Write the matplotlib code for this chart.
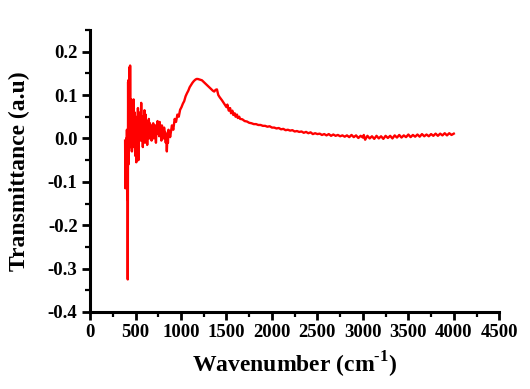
import numpy as np
import matplotlib
matplotlib.use("Agg")
import matplotlib.pyplot as plt
from matplotlib.ticker import MultipleLocator

plt.rcParams['font.family'] = 'Liberation Serif'
plt.rcParams['font.weight'] = 'bold'
plt.rcParams['mathtext.fontset'] = 'custom'
plt.rcParams['mathtext.rm'] = 'Liberation Serif:bold'
plt.rcParams['mathtext.bf'] = 'Liberation Serif:bold'

# spiky low-wavenumber part
wn_low = [385, 388, 392, 395, 398, 402, 405, 408, 411, 414, 416, 418, 421, 424,
          427, 430, 433, 436, 438, 440, 442, 445, 448, 451, 454, 457]
tr_low = [-0.005, -0.115, -0.02, -0.08, 0.0, -0.11, 0.02, -0.14, 0.01, -0.325,
          -0.05, 0.13, -0.06, 0.135, -0.03, 0.10, 0.02, 0.165, -0.01, 0.168,
          0.05, 0.09, -0.02, 0.09, 0.0, 0.085]

# noisy band 460-880
wn_mid = [460, 466, 472, 478, 484, 490, 496, 502, 508, 514, 520, 526, 532, 538,
          544, 550, 556, 562, 568, 574, 580, 586, 592, 598, 604, 610, 616, 622,
          628, 634, 640, 646, 652, 658, 664, 670, 676, 682, 688, 694, 700, 706,
          712, 718, 724, 730, 736, 742, 748, 754, 760, 766, 772, 778, 784, 790,
          796, 802, 808, 814, 820, 826, 832, 838, 844, 850, 856, 862, 868, 874]
tr_mid = [-0.030, 0.080, -0.020, 0.090, 0.000, 0.060, -0.040, 0.050, -0.055,
          0.040, -0.010, 0.070, -0.050, 0.030, 0.010, 0.060, -0.005, 0.082,
          0.000, 0.050, -0.020, 0.045, 0.010, 0.065, -0.010, 0.055, 0.000,
          0.040, -0.015, 0.030, 0.005, 0.045, 0.000, 0.035, 0.010, 0.030,
          -0.005, 0.025, 0.010, 0.035, 0.000, 0.025, 0.015, 0.030, -0.010,
          0.020, 0.010, 0.040, 0.015, 0.030, 0.005, 0.038, 0.012, 0.025,
          -0.005, 0.030, 0.010, 0.020, 0.000, 0.025, 0.005, 0.015, -0.010,
          0.010, -0.030, 0.005, -0.010, 0.020, 0.005, 0.015]

# broad band around 1200
wn_peak = [880, 900, 915, 930, 945, 960, 975, 990, 1005, 1020, 1035, 1050, 1065,
           1080, 1095, 1110, 1125, 1140, 1155, 1170, 1185, 1200, 1215, 1230,
           1245, 1260, 1275, 1290, 1305, 1320, 1335, 1350, 1365, 1380, 1395, 1410]
tr_peak = [0.003, 0.030, 0.020, 0.045, 0.038, 0.055, 0.050, 0.066, 0.072, 0.080,
           0.086, 0.097, 0.104, 0.110, 0.118, 0.123, 0.128, 0.132, 0.135, 0.137,
           0.137, 0.136, 0.135, 0.134, 0.131, 0.128, 0.125, 0.122, 0.119, 0.116,
           0.113, 0.110, 0.108, 0.112, 0.113, 0.100]

# decaying tail
wn_tail = [1425, 1450, 1475, 1500, 1510, 1525, 1540, 1550, 1565, 1575, 1590, 1600,
           1615, 1625, 1640, 1650, 1675, 1700, 1725, 1750, 1775, 1800, 1825, 1850,
           1875, 1900, 1925, 1950, 1975, 2000, 2025, 2050, 2075, 2100, 2125, 2150,
           2175, 2200, 2225, 2250, 2275, 2300, 2325, 2350, 2375, 2400, 2425, 2450,
           2475, 2500, 2525, 2550, 2575, 2600, 2625, 2650, 2675, 2700, 2725, 2750,
           2775, 2800, 2825, 2850, 2875, 2900, 2925, 2950, 2975, 3000, 3010, 3025,
           3050, 3075, 3100, 3125, 3150, 3175, 3200, 3225, 3250, 3275, 3300, 3325,
           3350, 3375, 3400, 3425, 3450, 3475, 3500, 3525, 3550, 3575, 3600, 3625,
           3650, 3675, 3700, 3725, 3750, 3775, 3800, 3825, 3850, 3875, 3900, 3925,
           3950, 3975, 4000]
tr_tail = [0.095, 0.088, 0.080, 0.072, 0.078, 0.064, 0.070, 0.058, 0.064, 0.054,
           0.058, 0.050, 0.055, 0.047, 0.050, 0.045, 0.044, 0.040, 0.039, 0.036,
           0.035, 0.033, 0.033, 0.031, 0.031, 0.029, 0.029, 0.027, 0.028, 0.025,
           0.025, 0.023, 0.024, 0.021, 0.022, 0.019, 0.020, 0.018, 0.019, 0.016,
           0.017, 0.015, 0.016, 0.013, 0.015, 0.012, 0.014, 0.010, 0.012, 0.010,
           0.011, 0.008, 0.010, 0.007, 0.010, 0.006, 0.009, 0.006, 0.008, 0.005,
           0.007, 0.004, 0.007, 0.003, 0.008, 0.003, 0.007, 0.001, 0.006, 0.002,
           0.008, -0.003, 0.006, 0.000, 0.005, -0.001, 0.006, 0.000, 0.005,
           -0.001, 0.006, 0.001, 0.006, 0.000, 0.007, 0.002, 0.008, 0.002, 0.007,
           0.003, 0.009, 0.003, 0.008, 0.004, 0.009, 0.004, 0.010, 0.005, 0.009,
           0.005, 0.010, 0.006, 0.011, 0.006, 0.011, 0.007, 0.012, 0.007, 0.012,
           0.008, 0.011]

wn = np.array(wn_low + wn_mid + wn_peak + wn_tail)
tr = np.array(tr_low + tr_mid + tr_peak + tr_tail)

fig = plt.figure(figsize=(5.30, 3.89), dpi=100)
ax = fig.add_axes([0.170, 0.198, 0.772, 0.725])
ax.plot(wn, tr, color='#ff0000', lw=1.7)

ax.set_xlim(0, 4500)
ax.set_ylim(-0.4, 0.25)
ax.xaxis.set_major_locator(MultipleLocator(500))
ax.xaxis.set_minor_locator(MultipleLocator(250))
ax.yaxis.set_minor_locator(MultipleLocator(0.05))
ax.set_yticks(np.arange(-0.4, 0.21, 0.1))
ax.set_yticklabels(['-0.4', '-0.3', '-0.2', '-0.1', '0.0', '0.1', '0.2'])

for s in ['top', 'right']:
    ax.spines[s].set_visible(False)
for s in ['left', 'bottom']:
    ax.spines[s].set_linewidth(2.2)

ax.tick_params(which='major', direction='out', length=6, width=2, labelsize=13.5, pad=3)
ax.tick_params(which='minor', direction='out', length=3.5, width=1.6)
for lab in ax.get_xticklabels() + ax.get_yticklabels():
    lab.set_fontweight('bold')

ax.set_xlabel(r'Wavenumber (cm$^{\text{-1}}$)', fontsize=17, fontweight='bold', labelpad=6)
ax.set_ylabel('Transmittance (a.u)', fontsize=17, fontweight='bold', labelpad=13)

fig.savefig('out.png', dpi=100)
